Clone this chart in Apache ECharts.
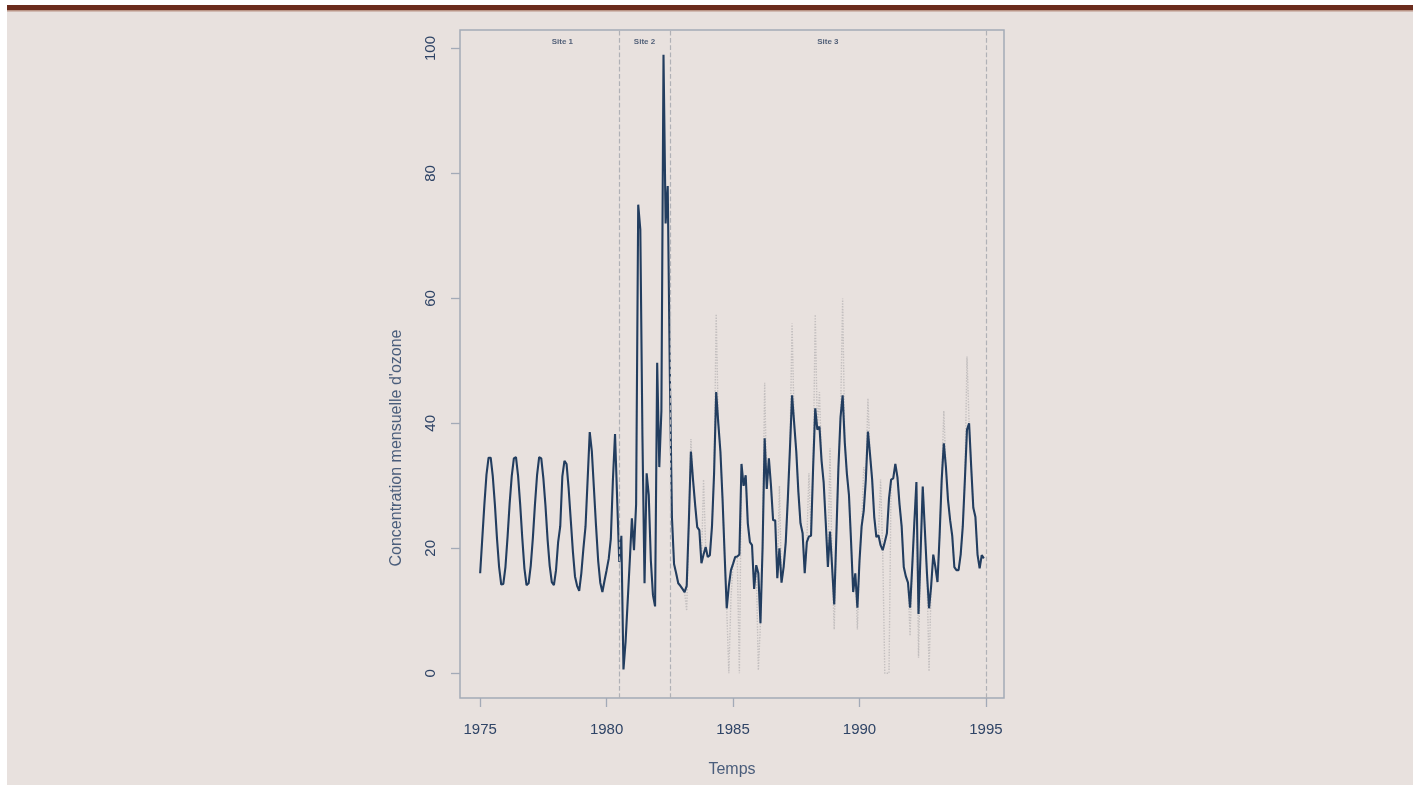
<!DOCTYPE html>
<html><head><meta charset="utf-8">
<script src="https://cdn.jsdelivr.net/npm/echarts@6/dist/echarts.min.js"></script>
<style>html,body{margin:0;padding:0;background:#ffffff}#c{width:1420px;height:785px}</style>
</head><body><div id="c"></div>
<script>
// ---- data ----
const startYear = 1975;          // first month: January 1975, monthly series
const monthsPerYear = 12;

// Site 1 : Jan 1975 - Jun 1980
const site1Values = [
  16, 21.5, 27, 31.8, 34.5, 34.5, 31.5, 27, 21.5, 17, 14.2, 14.3,
  17, 21.8, 27.2, 31.6, 34.4, 34.6, 31.6, 27, 21.6, 16.8, 14.1, 14.4,
  17.2, 21.6, 27, 31.7, 34.6, 34.4, 31.2, 26.8, 21.4, 17.2, 14.6, 14.1,
  16.5, 21, 23.5, 31.5, 34, 33.5, 29.5, 24.5, 19.5, 15.5, 14, 13.2,
  16, 20, 23.5, 31, 38.6, 35.5, 29.5, 23.5, 18, 14.5, 13, 14.8,
  16.5, 18.3, 21.5, 31, 38.3, 28
];
// Site 2 : Jul 1980 - Jun 1982
const site2Values = [
  17.8, 22, 0.6, 5, 11.5, 18,
  24.8, 19.7, 27, 75, 71, 38, 14.4, 32, 28.5, 18, 12.5, 10.7,
  49.7, 33, 42, 99, 72, 78
];
// Site 3 : Jul 1982 - Dec 1994 (smoothed / completed series)
const site3Values = [
  48, 25, 17.5, 16, 14.4, 14,
  13.5, 13, 14, 24, 35.5, 31, 27, 23.4, 22.9, 17.6, 19, 20.2,
  18.6, 18.9, 23.5, 32, 45, 40, 35.5, 28, 19, 10.4, 14, 16.5,
  17.5, 18.6, 18.7, 19, 33.5, 30, 31.7, 24, 21, 20.5, 13.5, 17.3,
  16, 8, 20, 37.6, 29.5, 34.4, 30, 24.5, 24.5, 15.2, 20, 14.5,
  17, 21, 28, 36, 44.5, 40, 35.5, 29, 24, 22.4, 16, 21,
  21.9, 22, 33, 42.4, 39, 39.5, 34, 30.5, 24, 17, 22.7, 17,
  11, 22, 33, 41, 44.5, 37, 32, 28.5, 21, 13, 16, 10.5,
  18, 23.5, 26, 31, 38.7, 35, 31, 25, 21.8, 22.1, 20.5, 19.7,
  21, 22.4, 28, 31, 31.2, 33.5, 31.4, 27, 23.5, 17, 15.5, 14.5,
  10.5, 17, 24, 30.6, 9.5, 19.5, 29.9, 23, 16, 10.4, 14, 19,
  17, 14.6, 22, 31, 36.8, 33, 27.7, 24.5, 22, 17, 16.5, 16.5,
  19, 23.5, 31, 39, 40, 33, 26.5, 25, 19, 16.8, 18.9, 18.4
];
// Site 3 : raw observed series (grey dotted)
const rawSite3Values = [
  48, 25, 17.5, 16, 14.4, 14,
  13.5, 13, 10, 24, 37.5, 31, 27, 23.4, 22.9, 17.6, 31, 20.2,
  18.6, 18.9, 23.5, 32, 57.5, 40, 35.5, 28, 19, 10.4, 0, 12,
  17.5, 18.6, 18.7, 0, 33.5, 30, 31.7, 24, 21, 20.5, 13.5, 17.3,
  0.5, 8, 20, 46.5, 29.5, 34.4, 30, 24.5, 24.5, 15.2, 30, 14.5,
  17, 21, 28, 36, 56, 40, 35.5, 29, 24, 22.4, 16, 21,
  32, 22, 33, 57.4, 39, 45, 34, 30.5, 24, 17, 36, 17,
  7, 22, 33, 41, 60, 37, 32, 28.5, 21, 13, 16, 7,
  18, 23.5, 33, 31, 44, 35, 31, 25, 21.8, 22.1, 31, 19.7,
  0, 0, 0, 31, 31.2, 33.5, 31.4, 27, 23.5, 17, 15.5, 14.5,
  6, 17, 24, 30.6, 2.5, 19.5, 29.9, 23, 16, 0.3, 14, 19,
  17, 14.6, 22, 31, 42, 33, 27.7, 24.5, 22, 17, 16.5, 16.5,
  19, 23.5, 31, 50.7, 40, 33, 26.5, 25, 19, 16.8, 18.9, 18.4
];

const siteBoundaries = [1980.5, 1982.5, 1995];
const siteNames = ['Site 1', 'Site 2', 'Site 3'];
const siteLabelX = [1978.25, 1981.5, 1988.75];
const siteLabelY = 101;

const xTicks = [1975, 1980, 1985, 1990, 1995];
const yTicks = [0, 20, 40, 60, 80, 100];
const xTitle = 'Temps';
const yTitle = "Concentration mensuelle d'ozone";

// ---- build ----
const FONT = "'Liberation Sans', Arial, Helvetica, sans-serif";
const allValues = site1Values.concat(site2Values, site3Values);
const darkData = allValues.map((v, i) => [startYear + i / monthsPerYear, v]);
const rawOffset = site1Values.length + site2Values.length;
const rawData = rawSite3Values.map((v, i) => [startYear + (rawOffset + i) / monthsPerYear, v]);

const xFirst = startYear, xLast = startYear + (allValues.length - 1) / monthsPerYear;
const xPad = (xLast - xFirst) * 0.04;
const yPad = 99 * 0.04;

const chart = echarts.init(document.getElementById('c'), null, {renderer: 'canvas'});
const axisColor = '#a3aab7';
const labelColor = '#2f4466';

chart.setOption({
  animation: false,
  backgroundColor: 'transparent',
  graphic: [
    {type: 'rect', z: -100, shape: {x: 7, y: 10, width: 1406, height: 775}, style: {fill: '#e8e1de'}},
    {type: 'rect', z: -99, shape: {x: 7, y: 5, width: 1406, height: 5}, style: {fill: '#6b2c1d'}},
    {type: 'rect', z: -99, shape: {x: 7, y: 10, width: 1406, height: 1.5}, style: {fill: '#b99486'}},
    {type: 'text', z: 10, x: 397, y: 448, rotation: Math.PI / 2,
      style: {text: yTitle, font: '16px ' + FONT, fill: '#4a5d7b', align: 'center', verticalAlign: 'middle'}}
  ],
  grid: {left: 460, top: 30, width: 544, height: 668, show: true, borderColor: axisColor, borderWidth: 1.5, backgroundColor: 'transparent'},
  xAxis: {
    type: 'value', min: xFirst - xPad, max: xLast + xPad,
    axisLine: {show: false, onZero: false},
    splitLine: {show: false},
    axisTick: {show: true, customValues: xTicks, length: 9, lineStyle: {color: axisColor, width: 1.3}},
    axisLabel: {customValues: xTicks, margin: 24, color: labelColor, fontSize: 15, fontFamily: FONT,
      formatter: v => String(Math.round(v))},
    name: xTitle, nameLocation: 'middle', nameGap: 64,
    nameTextStyle: {color: '#4a5d7b', fontSize: 16, fontFamily: FONT}
  },
  yAxis: {
    type: 'value', min: -yPad, max: 99 + yPad,
    axisLine: {show: false, onZero: false},
    splitLine: {show: false},
    axisTick: {show: true, customValues: yTicks, length: 9, lineStyle: {color: axisColor, width: 1.3}},
    axisLabel: {customValues: yTicks, rotate: 90, margin: 22, color: labelColor, fontSize: 15, fontFamily: FONT,
      formatter: v => String(Math.round(v))}
  },
  series: [
    {
      type: 'line', data: rawData, showSymbol: false, silent: true, z: 1,
      lineStyle: {color: '#c3bfbf', width: 1.4, type: 'dotted'},
      markLine: {
        silent: true, symbol: 'none', label: {show: false},
        lineStyle: {color: '#b0b1b6', type: 'dashed', width: 1.2},
        data: siteBoundaries.map(x => ({xAxis: x}))
      }
    },
    {
      type: 'line', data: darkData, showSymbol: false, silent: true, z: 3,
      lineStyle: {color: '#223d5f', width: 2.1}
    },
    {
      type: 'scatter', silent: true, z: 4, symbol: 'circle', symbolSize: 2,
      itemStyle: {color: 'rgba(0,0,0,0)'},
      data: siteNames.map((n, i) => ({name: n, value: [siteLabelX[i], siteLabelY]})),
      label: {show: true, formatter: '{b}', position: 'inside', fontSize: 8, fontWeight: 'bold', color: '#2b3f5e', fontFamily: FONT}
    }
  ]
});
</script></body></html>
